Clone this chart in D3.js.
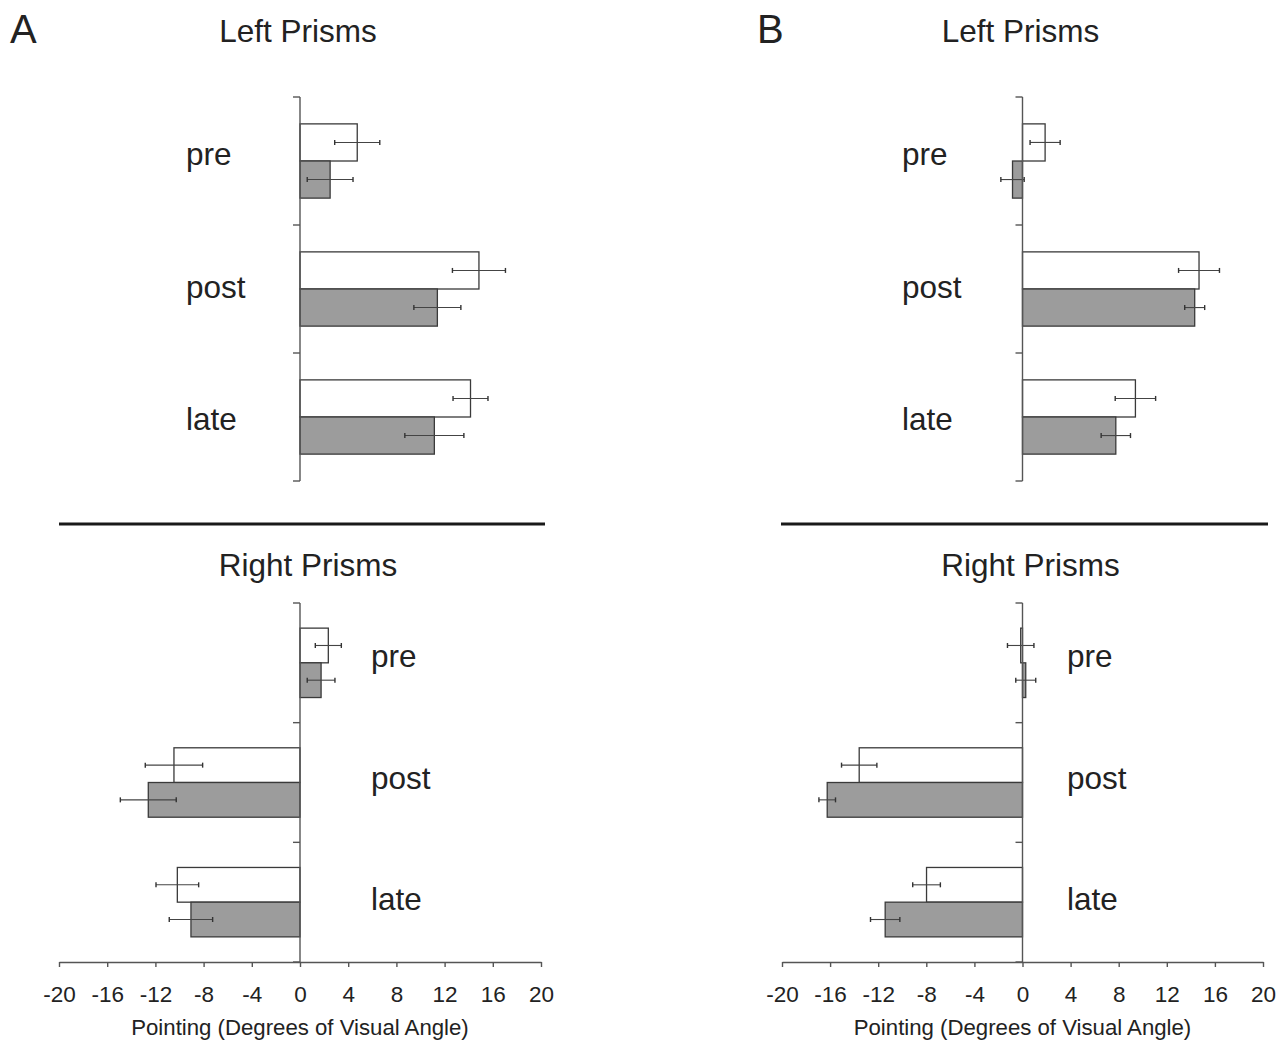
<!DOCTYPE html>
<html>
<head>
<meta charset="utf-8">
<script src="https://cdn.jsdelivr.net/npm/d3@7"></script>
<style>
  html, body { margin: 0; padding: 0; background: #ffffff; }
  svg { display: block; }
  text { font-family: "Liberation Sans", Arial, Helvetica, sans-serif; fill: #222; }
</style>
</head>
<body>
<svg id="chart" width="1286" height="1044"></svg>
<script>
// ---------------- DATA ----------------
const categories = ["pre", "post", "late"];
const xTickValues = [-20, -16, -12, -8, -4, 0, 4, 8, 12, 16, 20];
const xTickLabels = ["-20", "-16", "-12", "-8", "-4", "0", "4", "8", "12", "16", "20"];
const xAxisTitle = "Pointing (Degrees of Visual Angle)";
const panelLetters = ["A", "B"];
const topTitle = "Left Prisms";
const bottomTitle = "Right Prisms";

// Panel A, Left Prisms
const leftA_open = [4.75, 14.85, 14.15];
const leftA_openErr = [1.87, 2.2, 1.45];
const leftA_filled = [2.5, 11.4, 11.15];
const leftA_filledErr = [1.9, 1.95, 2.45];
// Panel A, Right Prisms
const rightA_open = [2.35, -10.46, -10.18];
const rightA_openErr = [1.08, 2.38, 1.77];
const rightA_filled = [1.75, -12.59, -9.05];
const rightA_filledErr = [1.15, 2.32, 1.8];
// Panel B, Left Prisms
const leftB_open = [1.88, 14.68, 9.39];
const leftB_openErr = [1.25, 1.7, 1.68];
const leftB_filled = [-0.83, 14.32, 7.76];
const leftB_filledErr = [0.97, 0.83, 1.22];
// Panel B, Right Prisms
const rightB_open = [-0.15, -13.58, -7.98];
const rightB_openErr = [1.1, 1.47, 1.15];
const rightB_filled = [0.27, -16.24, -11.42];
const rightB_filledErr = [0.83, 0.69, 1.22];

// ---------------- DRAW ----------------
const svg = d3.select("#chart");
const FILL_GRAY = "#9c9c9c";
const STROKE = "#3a3a3a";
const AXIS = "#555";

function drawPanel(cfg) {
  const x = d3.scaleLinear().domain([-20, 20]).range(cfg.xRange);
  const y = d3.scaleBand().domain(categories).range(cfg.yRange).padding(0);
  const yLab = d3.scalePoint().domain(categories).range(cfg.labelRange);
  const g = svg.append("g");
  const bw = y.bandwidth();
  const bh = bw * 0.29;
  const x0 = x(0);

  const rows = categories.map((c, i) => ({
    c,
    open: cfg.open[i], openErr: cfg.openErr[i],
    filled: cfg.filled[i], filledErr: cfg.filledErr[i]
  }));

  const series = [
    { key: "open", err: "openErr", fill: "#ffffff", off: -1 },
    { key: "filled", err: "filledErr", fill: FILL_GRAY, off: 0 }
  ];

  series.forEach(s => {
    const center = d => y(d.c) + bw / 2;
    g.selectAll(null).data(rows).enter().append("rect")
      .attr("x", d => Math.min(x0, x(d[s.key])))
      .attr("width", d => Math.abs(x(d[s.key]) - x0))
      .attr("y", d => center(d) + s.off * bh)
      .attr("height", bh)
      .attr("fill", s.fill)
      .attr("stroke", STROKE)
      .attr("stroke-width", 1.3);
    // error bars
    const ey = d => center(d) + s.off * bh + bh / 2;
    g.selectAll(null).data(rows).enter().append("line")
      .attr("x1", d => x(d[s.key] - d[s.err]))
      .attr("x2", d => x(d[s.key] + d[s.err]))
      .attr("y1", ey).attr("y2", ey)
      .attr("stroke", "#444").attr("stroke-width", 1.1);
    [-1, 1].forEach(sign => {
      g.selectAll(null).data(rows).enter().append("line")
        .attr("x1", d => x(d[s.key] + sign * d[s.err]))
        .attr("x2", d => x(d[s.key] + sign * d[s.err]))
        .attr("y1", d => ey(d) - 2.5).attr("y2", d => ey(d) + 2.5)
        .attr("stroke", "#333").attr("stroke-width", 1.4);
    });
  });

  // vertical axis at zero
  g.append("line")
    .attr("x1", x0).attr("x2", x0)
    .attr("y1", cfg.yRange[0]).attr("y2", cfg.yRange[1])
    .attr("stroke", AXIS).attr("stroke-width", 1.4);
  const bounds = categories.map(c => y(c)).concat([cfg.yRange[1]]);
  g.selectAll(null).data(bounds).enter().append("line")
    .attr("x1", x0 - 7).attr("x2", x0)
    .attr("y1", d => d).attr("y2", d => d)
    .attr("stroke", AXIS).attr("stroke-width", 1.4);

  // category labels
  g.selectAll(null).data(categories).enter().append("text")
    .attr("x", cfg.labelX)
    .attr("y", d => yLab(d))
    .attr("font-size", 31.5)
    .text(d => d);

  // title
  g.append("text")
    .attr("x", cfg.titleX).attr("y", cfg.titleY)
    .attr("text-anchor", "middle")
    .attr("font-size", 31.5)
    .text(cfg.title);

  // x axis for bottom panels
  if (cfg.showXAxis) {
    const ax = g.append("g")
      .attr("transform", `translate(0,${cfg.yRange[1]})`)
      .call(d3.axisBottom(x).tickValues(xTickValues)
        .tickFormat((d, i) => xTickLabels[i])
        .tickSize(5).tickSizeOuter(0).tickPadding(19));
    ax.select(".domain").attr("stroke", AXIS).attr("stroke-width", 1.4);
    ax.selectAll(".tick line").attr("stroke", AXIS).attr("stroke-width", 1.4);
    ax.selectAll(".tick text")
      .attr("font-size", 22.5)
      .attr("font-family", "Liberation Sans, Arial, sans-serif")
      .attr("fill", "#222");
    g.append("text")
      .attr("x", x0).attr("y", 1035)
      .attr("text-anchor", "middle")
      .attr("font-size", 22.2)
      .text(xAxisTitle);
  }
  return x;
}

const panels = [
  { letter: panelLetters[0], letterX: 10, xRange: [59, 541],
    top: { open: leftA_open, openErr: leftA_openErr, filled: leftA_filled, filledErr: leftA_filledErr, labelX: 186 },
    bottom: { open: rightA_open, openErr: rightA_openErr, filled: rightA_filled, filledErr: rightA_filledErr, labelX: 371 },
    sep: [59, 545] },
  { letter: panelLetters[1], letterX: 757, xRange: [782, 1263],
    top: { open: leftB_open, openErr: leftB_openErr, filled: leftB_filled, filledErr: leftB_filledErr, labelX: 902 },
    bottom: { open: rightB_open, openErr: rightB_openErr, filled: rightB_filled, filledErr: rightB_filledErr, labelX: 1067 },
    sep: [781, 1268] }
];

panels.forEach(p => {
  const xs = d3.scaleLinear().domain([-20, 20]).range(p.xRange);
  drawPanel(Object.assign({}, p.top, {
    xRange: p.xRange, yRange: [97, 481], labelRange: [165, 430],
    title: topTitle, titleX: xs(0) - 2, titleY: 42, showXAxis: false
  }));
  drawPanel(Object.assign({}, p.bottom, {
    xRange: p.xRange, yRange: [603, 962], labelRange: [667, 910],
    title: bottomTitle, titleX: xs(0) + 8, titleY: 576, showXAxis: true
  }));
  svg.append("line")
    .attr("x1", p.sep[0]).attr("x2", p.sep[1])
    .attr("y1", 524).attr("y2", 524)
    .attr("stroke", "#1a1a1a").attr("stroke-width", 3.2);
  svg.append("text")
    .attr("x", p.letterX).attr("y", 43)
    .attr("font-size", 40)
    .text(p.letter);
});
</script>
</body>
</html>
